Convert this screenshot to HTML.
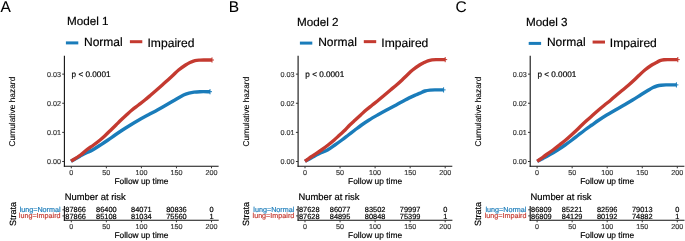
<!DOCTYPE html>
<html><head><meta charset="utf-8"><style>
html,body{margin:0;padding:0;background:#fff;overflow:hidden;}
svg{display:block;font-family:"Liberation Sans", sans-serif;will-change:transform;text-rendering:geometricPrecision;}
</style></head><body>
<svg width="685" height="241" viewBox="0 0 685 241" xmlns="http://www.w3.org/2000/svg">
<rect width="685" height="241" fill="#fff"/>
<text x="0.6" y="12.1" font-size="15.5" fill="#000" stroke="#000" stroke-width="0.05">A</text>
<text x="66.9" y="24.8" font-size="11.7" fill="#000" stroke="#000" stroke-width="0.18">Model 1</text>
<line x1="65.9" y1="42.9" x2="78.3" y2="42.9" stroke="#1A7CBA" stroke-width="3"/>
<text x="84" y="46.1" font-size="12.0" fill="#000" stroke="#000" stroke-width="0.18">Normal</text>
<line x1="129.9" y1="41.7" x2="142.3" y2="41.7" stroke="#C43A30" stroke-width="3"/>
<text x="147.5" y="46.9" font-size="12.1" fill="#000" stroke="#000" stroke-width="0.18">Impaired</text>
<line x1="64.4" y1="55.8" x2="64.4" y2="166.85" stroke="#111111" stroke-width="1.1"/>
<line x1="63.85" y1="166.3" x2="218.6" y2="166.3" stroke="#111111" stroke-width="1.1"/>
<line x1="62.2" y1="161.5" x2="64.4" y2="161.5" stroke="#333" stroke-width="1.0"/>
<text x="60.9" y="164.1" font-size="7.2" fill="#383838" stroke="#383838" stroke-width="0.18" text-anchor="end">0.00</text>
<line x1="62.2" y1="132.38" x2="64.4" y2="132.38" stroke="#333" stroke-width="1.0"/>
<text x="60.9" y="134.98" font-size="7.2" fill="#383838" stroke="#383838" stroke-width="0.18" text-anchor="end">0.01</text>
<line x1="62.2" y1="103.26" x2="64.4" y2="103.26" stroke="#333" stroke-width="1.0"/>
<text x="60.9" y="105.86" font-size="7.2" fill="#383838" stroke="#383838" stroke-width="0.18" text-anchor="end">0.02</text>
<line x1="62.2" y1="74.14" x2="64.4" y2="74.14" stroke="#333" stroke-width="1.0"/>
<text x="60.9" y="76.74" font-size="7.2" fill="#383838" stroke="#383838" stroke-width="0.18" text-anchor="end">0.03</text>
<line x1="71.3" y1="166.3" x2="71.3" y2="168.3" stroke="#333" stroke-width="1.0"/>
<text x="71.3" y="175" font-size="7.2" fill="#383838" stroke="#383838" stroke-width="0.18" text-anchor="middle">0</text>
<line x1="106.35" y1="166.3" x2="106.35" y2="168.3" stroke="#333" stroke-width="1.0"/>
<text x="106.35" y="175" font-size="7.2" fill="#383838" stroke="#383838" stroke-width="0.18" text-anchor="middle">50</text>
<line x1="141.4" y1="166.3" x2="141.4" y2="168.3" stroke="#333" stroke-width="1.0"/>
<text x="141.4" y="175" font-size="7.2" fill="#383838" stroke="#383838" stroke-width="0.18" text-anchor="middle">100</text>
<line x1="176.45" y1="166.3" x2="176.45" y2="168.3" stroke="#333" stroke-width="1.0"/>
<text x="176.45" y="175" font-size="7.2" fill="#383838" stroke="#383838" stroke-width="0.18" text-anchor="middle">150</text>
<line x1="211.5" y1="166.3" x2="211.5" y2="168.3" stroke="#333" stroke-width="1.0"/>
<text x="211.5" y="175" font-size="7.2" fill="#383838" stroke="#383838" stroke-width="0.18" text-anchor="middle">200</text>
<text x="141.4" y="184.2" font-size="8.4" fill="#000" stroke="#000" stroke-width="0.18" text-anchor="middle">Follow up time</text>
<text transform="translate(14.8,111.6) rotate(-90)" font-size="8.4" fill="#000" stroke="#000" stroke-width="0.1" text-anchor="middle">Cumulative hazard</text>
<text x="71.6" y="77.4" font-size="8.2" fill="#000" stroke="#000" stroke-width="0.18">p &lt; 0.0001</text>
<path d="M71,161.2 C72.5,160.37 77.5,157.57 80,156.2 C82.5,154.83 83.92,154.03 86,153 C88.08,151.97 90.1,151.33 92.5,150 C94.9,148.67 97.82,146.67 100.4,145 C102.98,143.33 105.55,141.67 108,140 C110.45,138.33 112.68,136.67 115.1,135 C117.52,133.33 119.93,131.67 122.5,130 C125.07,128.33 127.77,126.67 130.5,125 C133.23,123.33 135.98,121.67 138.9,120 C141.82,118.33 144.92,116.67 148,115 C151.08,113.33 154.37,111.67 157.4,110 C160.43,108.33 163.28,106.67 166.2,105 C169.12,103.33 172,101.67 174.9,100 C177.8,98.33 181.25,96.15 183.6,95 C185.95,93.85 187.27,93.58 189,93.1 C190.73,92.62 192.17,92.33 194,92.1 C195.83,91.87 197.33,91.77 200,91.7 C202.67,91.63 208.33,91.7 210,91.7" fill="none" stroke="#1A7CBA" stroke-width="3.4" stroke-linejoin="round"/>
<path d="M208,91.7 h4 M210,89.1 v5.2" stroke="#1A7CBA" stroke-width="1" fill="none"/>
<path d="M71,161.2 C72.58,160.17 77.93,156.87 80.5,155 C83.07,153.13 84.22,151.67 86.4,150 C88.58,148.33 91.32,146.67 93.6,145 C95.88,143.33 98.08,141.67 100.1,140 C102.12,138.33 103.9,136.67 105.7,135 C107.5,133.33 109.18,131.67 110.9,130 C112.62,128.33 114.32,126.67 116,125 C117.68,123.33 119.27,121.67 121,120 C122.73,118.33 124.57,116.67 126.4,115 C128.23,113.33 129.98,111.67 132,110 C134.02,108.33 136.35,106.67 138.5,105 C140.65,103.33 142.85,101.67 144.9,100 C146.95,98.33 148.85,96.67 150.8,95 C152.75,93.33 154.68,91.67 156.6,90 C158.52,88.33 160.42,86.67 162.3,85 C164.18,83.33 166.07,81.67 167.9,80 C169.73,78.33 171.52,76.67 173.3,75 C175.08,73.33 176.55,71.67 178.6,70 C180.65,68.33 183.7,66.25 185.6,65 C187.5,63.75 188.43,63.23 190,62.5 C191.57,61.77 193.33,61 195,60.6 C196.67,60.2 198.33,60.2 200,60.1 C201.67,60 203,60.02 205,60 C207,59.98 210.83,60 212,60" fill="none" stroke="#C43A30" stroke-width="3.4" stroke-linejoin="round"/>
<path d="M210,60 h4 M212,57.4 v5.2" stroke="#C43A30" stroke-width="1" fill="none"/>
<text x="64.8" y="200.1" font-size="9.4" fill="#000" stroke="#000" stroke-width="0.18">Number at risk</text>
<line x1="64.4" y1="206.1" x2="64.4" y2="220.85" stroke="#111111" stroke-width="1.1"/>
<line x1="63.85" y1="220.3" x2="218.7" y2="220.3" stroke="#111111" stroke-width="1.1"/>
<line x1="62.4" y1="209.8" x2="64.4" y2="209.8" stroke="#333" stroke-width="1.0"/>
<text x="60.6" y="212.35" font-size="7.2" fill="#1A7CBA" stroke="#1A7CBA" stroke-width="0.18" text-anchor="end">lung=Normal</text>
<text transform="translate(65.3,212.4) scale(1.0,1)" font-size="7.4" fill="#000" stroke="#000" stroke-width="0.18" text-anchor="start">87866</text>
<text transform="translate(106.35,212.4) scale(1.0,1)" font-size="7.4" fill="#000" stroke="#000" stroke-width="0.18" text-anchor="middle">86400</text>
<text transform="translate(141.4,212.4) scale(1.0,1)" font-size="7.4" fill="#000" stroke="#000" stroke-width="0.18" text-anchor="middle">84071</text>
<text transform="translate(176.45,212.4) scale(1.0,1)" font-size="7.4" fill="#000" stroke="#000" stroke-width="0.18" text-anchor="middle">80836</text>
<text transform="translate(211.5,212.4) scale(1.0,1)" font-size="7.4" fill="#000" stroke="#000" stroke-width="0.18" text-anchor="middle">0</text>
<line x1="62.4" y1="215.9" x2="64.4" y2="215.9" stroke="#333" stroke-width="1.0"/>
<text x="60.6" y="218.45" font-size="7.2" fill="#C43A30" stroke="#C43A30" stroke-width="0.18" text-anchor="end">lung=Impaird</text>
<text transform="translate(65.3,218.5) scale(1.0,1)" font-size="7.4" fill="#000" stroke="#000" stroke-width="0.18" text-anchor="start">87866</text>
<text transform="translate(106.35,218.5) scale(1.0,1)" font-size="7.4" fill="#000" stroke="#000" stroke-width="0.18" text-anchor="middle">85108</text>
<text transform="translate(141.4,218.5) scale(1.0,1)" font-size="7.4" fill="#000" stroke="#000" stroke-width="0.18" text-anchor="middle">81034</text>
<text transform="translate(176.45,218.5) scale(1.0,1)" font-size="7.4" fill="#000" stroke="#000" stroke-width="0.18" text-anchor="middle">75560</text>
<text transform="translate(211.5,218.5) scale(1.0,1)" font-size="7.4" fill="#000" stroke="#000" stroke-width="0.18" text-anchor="middle">1</text>
<line x1="71.3" y1="220.3" x2="71.3" y2="222.3" stroke="#333" stroke-width="1.0"/>
<text x="71.3" y="228.9" font-size="7.2" fill="#383838" stroke="#383838" stroke-width="0.18" text-anchor="middle">0</text>
<line x1="106.35" y1="220.3" x2="106.35" y2="222.3" stroke="#333" stroke-width="1.0"/>
<text x="106.35" y="228.9" font-size="7.2" fill="#383838" stroke="#383838" stroke-width="0.18" text-anchor="middle">50</text>
<line x1="141.4" y1="220.3" x2="141.4" y2="222.3" stroke="#333" stroke-width="1.0"/>
<text x="141.4" y="228.9" font-size="7.2" fill="#383838" stroke="#383838" stroke-width="0.18" text-anchor="middle">100</text>
<line x1="176.45" y1="220.3" x2="176.45" y2="222.3" stroke="#333" stroke-width="1.0"/>
<text x="176.45" y="228.9" font-size="7.2" fill="#383838" stroke="#383838" stroke-width="0.18" text-anchor="middle">150</text>
<line x1="211.5" y1="220.3" x2="211.5" y2="222.3" stroke="#333" stroke-width="1.0"/>
<text x="211.5" y="228.9" font-size="7.2" fill="#383838" stroke="#383838" stroke-width="0.18" text-anchor="middle">200</text>
<text x="141.4" y="238.4" font-size="8.4" fill="#000" stroke="#000" stroke-width="0.18" text-anchor="middle">Follow up time</text>
<text transform="translate(15.5,213.9) rotate(-90)" font-size="9.0" fill="#000" stroke="#000" stroke-width="0.18" text-anchor="middle">Strata</text>
<text x="228.8" y="11.8" font-size="15.5" fill="#000" stroke="#000" stroke-width="0.05">B</text>
<text x="296.9" y="25.8" font-size="11.7" fill="#000" stroke="#000" stroke-width="0.18">Model 2</text>
<line x1="299.9" y1="43.1" x2="312.3" y2="43.1" stroke="#1A7CBA" stroke-width="3"/>
<text x="318.2" y="45.9" font-size="12.0" fill="#000" stroke="#000" stroke-width="0.18">Normal</text>
<line x1="363.8" y1="41.65" x2="376.2" y2="41.65" stroke="#C43A30" stroke-width="3"/>
<text x="381.3" y="47" font-size="12.1" fill="#000" stroke="#000" stroke-width="0.18">Impaired</text>
<line x1="298.1" y1="55.8" x2="298.1" y2="166.85" stroke="#111111" stroke-width="1.1"/>
<line x1="297.55" y1="166.3" x2="452.3" y2="166.3" stroke="#111111" stroke-width="1.1"/>
<line x1="295.9" y1="161.5" x2="298.1" y2="161.5" stroke="#333" stroke-width="1.0"/>
<text x="294.6" y="164.1" font-size="7.2" fill="#383838" stroke="#383838" stroke-width="0.18" text-anchor="end">0.00</text>
<line x1="295.9" y1="132.38" x2="298.1" y2="132.38" stroke="#333" stroke-width="1.0"/>
<text x="294.6" y="134.98" font-size="7.2" fill="#383838" stroke="#383838" stroke-width="0.18" text-anchor="end">0.01</text>
<line x1="295.9" y1="103.26" x2="298.1" y2="103.26" stroke="#333" stroke-width="1.0"/>
<text x="294.6" y="105.86" font-size="7.2" fill="#383838" stroke="#383838" stroke-width="0.18" text-anchor="end">0.02</text>
<line x1="295.9" y1="74.14" x2="298.1" y2="74.14" stroke="#333" stroke-width="1.0"/>
<text x="294.6" y="76.74" font-size="7.2" fill="#383838" stroke="#383838" stroke-width="0.18" text-anchor="end">0.03</text>
<line x1="305" y1="166.3" x2="305" y2="168.3" stroke="#333" stroke-width="1.0"/>
<text x="305" y="175" font-size="7.2" fill="#383838" stroke="#383838" stroke-width="0.18" text-anchor="middle">0</text>
<line x1="340.05" y1="166.3" x2="340.05" y2="168.3" stroke="#333" stroke-width="1.0"/>
<text x="340.05" y="175" font-size="7.2" fill="#383838" stroke="#383838" stroke-width="0.18" text-anchor="middle">50</text>
<line x1="375.1" y1="166.3" x2="375.1" y2="168.3" stroke="#333" stroke-width="1.0"/>
<text x="375.1" y="175" font-size="7.2" fill="#383838" stroke="#383838" stroke-width="0.18" text-anchor="middle">100</text>
<line x1="410.15" y1="166.3" x2="410.15" y2="168.3" stroke="#333" stroke-width="1.0"/>
<text x="410.15" y="175" font-size="7.2" fill="#383838" stroke="#383838" stroke-width="0.18" text-anchor="middle">150</text>
<line x1="445.2" y1="166.3" x2="445.2" y2="168.3" stroke="#333" stroke-width="1.0"/>
<text x="445.2" y="175" font-size="7.2" fill="#383838" stroke="#383838" stroke-width="0.18" text-anchor="middle">200</text>
<text x="375.1" y="184.2" font-size="8.4" fill="#000" stroke="#000" stroke-width="0.18" text-anchor="middle">Follow up time</text>
<text transform="translate(248.5,111.6) rotate(-90)" font-size="8.4" fill="#000" stroke="#000" stroke-width="0.1" text-anchor="middle">Cumulative hazard</text>
<text x="305.3" y="77.4" font-size="8.2" fill="#000" stroke="#000" stroke-width="0.18">p &lt; 0.0001</text>
<path d="M305,161.3 C306.17,160.67 309.67,158.75 312,157.5 C314.33,156.25 316.42,155.05 319,153.8 C321.58,152.55 324.85,151.47 327.5,150 C330.15,148.53 332.5,146.67 334.9,145 C337.3,143.33 339.65,141.67 341.9,140 C344.15,138.33 346.23,136.67 348.4,135 C350.57,133.33 352.7,131.67 354.9,130 C357.1,128.33 359.23,126.67 361.6,125 C363.97,123.33 366.43,121.67 369.1,120 C371.77,118.33 374.68,116.67 377.6,115 C380.52,113.33 383.5,111.67 386.6,110 C389.7,108.33 393.1,106.67 396.2,105 C399.3,103.33 401.97,101.67 405.2,100 C408.43,98.33 413.13,96.15 415.6,95 C418.07,93.85 418.43,93.77 420,93.1 C421.57,92.43 423.33,91.5 425,91 C426.67,90.5 428.17,90.28 430,90.1 C431.83,89.92 433.73,89.93 436,89.9 C438.27,89.87 442.33,89.9 443.6,89.9" fill="none" stroke="#1A7CBA" stroke-width="3.4" stroke-linejoin="round"/>
<path d="M441.6,89.9 h4 M443.6,87.3 v5.2" stroke="#1A7CBA" stroke-width="1" fill="none"/>
<path d="M305,161.3 C305.67,160.8 307.5,159.35 309,158.3 C310.5,157.25 311.93,156.38 314,155 C316.07,153.62 319.05,151.67 321.4,150 C323.75,148.33 325.97,146.67 328.1,145 C330.23,143.33 332.28,141.67 334.2,140 C336.12,138.33 337.78,136.67 339.6,135 C341.42,133.33 343.4,131.67 345.1,130 C346.8,128.33 348.12,126.67 349.8,125 C351.48,123.33 353.38,121.67 355.2,120 C357.02,118.33 358.88,116.67 360.7,115 C362.52,113.33 364.17,111.67 366.1,110 C368.03,108.33 370.22,106.67 372.3,105 C374.38,103.33 376.55,101.67 378.6,100 C380.65,98.33 382.62,96.67 384.6,95 C386.58,93.33 388.52,91.67 390.5,90 C392.48,88.33 394.57,86.67 396.5,85 C398.43,83.33 400.32,81.67 402.1,80 C403.88,78.33 405.45,76.67 407.2,75 C408.95,73.33 410.53,71.67 412.6,70 C414.67,68.33 417.7,66.23 419.6,65 C421.5,63.77 422.6,63.3 424,62.6 C425.4,61.9 426.67,61.25 428,60.8 C429.33,60.35 430.67,60.1 432,59.9 C433.33,59.7 433.8,59.65 436,59.6 C438.2,59.55 443.67,59.6 445.2,59.6" fill="none" stroke="#C43A30" stroke-width="3.4" stroke-linejoin="round"/>
<path d="M443.2,59.6 h4 M445.2,57 v5.2" stroke="#C43A30" stroke-width="1" fill="none"/>
<text x="298.5" y="200.1" font-size="9.4" fill="#000" stroke="#000" stroke-width="0.18">Number at risk</text>
<line x1="298.1" y1="206.1" x2="298.1" y2="220.85" stroke="#111111" stroke-width="1.1"/>
<line x1="297.55" y1="220.3" x2="452.4" y2="220.3" stroke="#111111" stroke-width="1.1"/>
<line x1="296.1" y1="209.8" x2="298.1" y2="209.8" stroke="#333" stroke-width="1.0"/>
<text x="294.3" y="212.35" font-size="7.2" fill="#1A7CBA" stroke="#1A7CBA" stroke-width="0.18" text-anchor="end">lung=Normal</text>
<text transform="translate(299,212.4) scale(1.0,1)" font-size="7.4" fill="#000" stroke="#000" stroke-width="0.18" text-anchor="start">87628</text>
<text transform="translate(340.05,212.4) scale(1.0,1)" font-size="7.4" fill="#000" stroke="#000" stroke-width="0.18" text-anchor="middle">86077</text>
<text transform="translate(375.1,212.4) scale(1.0,1)" font-size="7.4" fill="#000" stroke="#000" stroke-width="0.18" text-anchor="middle">83502</text>
<text transform="translate(410.15,212.4) scale(1.0,1)" font-size="7.4" fill="#000" stroke="#000" stroke-width="0.18" text-anchor="middle">79997</text>
<text transform="translate(445.2,212.4) scale(1.0,1)" font-size="7.4" fill="#000" stroke="#000" stroke-width="0.18" text-anchor="middle">0</text>
<line x1="296.1" y1="215.9" x2="298.1" y2="215.9" stroke="#333" stroke-width="1.0"/>
<text x="294.3" y="218.45" font-size="7.2" fill="#C43A30" stroke="#C43A30" stroke-width="0.18" text-anchor="end">lung=Impaird</text>
<text transform="translate(299,218.5) scale(1.0,1)" font-size="7.4" fill="#000" stroke="#000" stroke-width="0.18" text-anchor="start">87628</text>
<text transform="translate(340.05,218.5) scale(1.0,1)" font-size="7.4" fill="#000" stroke="#000" stroke-width="0.18" text-anchor="middle">84895</text>
<text transform="translate(375.1,218.5) scale(1.0,1)" font-size="7.4" fill="#000" stroke="#000" stroke-width="0.18" text-anchor="middle">80848</text>
<text transform="translate(410.15,218.5) scale(1.0,1)" font-size="7.4" fill="#000" stroke="#000" stroke-width="0.18" text-anchor="middle">75399</text>
<text transform="translate(445.2,218.5) scale(1.0,1)" font-size="7.4" fill="#000" stroke="#000" stroke-width="0.18" text-anchor="middle">1</text>
<line x1="305" y1="220.3" x2="305" y2="222.3" stroke="#333" stroke-width="1.0"/>
<text x="305" y="228.9" font-size="7.2" fill="#383838" stroke="#383838" stroke-width="0.18" text-anchor="middle">0</text>
<line x1="340.05" y1="220.3" x2="340.05" y2="222.3" stroke="#333" stroke-width="1.0"/>
<text x="340.05" y="228.9" font-size="7.2" fill="#383838" stroke="#383838" stroke-width="0.18" text-anchor="middle">50</text>
<line x1="375.1" y1="220.3" x2="375.1" y2="222.3" stroke="#333" stroke-width="1.0"/>
<text x="375.1" y="228.9" font-size="7.2" fill="#383838" stroke="#383838" stroke-width="0.18" text-anchor="middle">100</text>
<line x1="410.15" y1="220.3" x2="410.15" y2="222.3" stroke="#333" stroke-width="1.0"/>
<text x="410.15" y="228.9" font-size="7.2" fill="#383838" stroke="#383838" stroke-width="0.18" text-anchor="middle">150</text>
<line x1="445.2" y1="220.3" x2="445.2" y2="222.3" stroke="#333" stroke-width="1.0"/>
<text x="445.2" y="228.9" font-size="7.2" fill="#383838" stroke="#383838" stroke-width="0.18" text-anchor="middle">200</text>
<text x="375.1" y="238.4" font-size="8.4" fill="#000" stroke="#000" stroke-width="0.18" text-anchor="middle">Follow up time</text>
<text transform="translate(249.2,213.9) rotate(-90)" font-size="9.0" fill="#000" stroke="#000" stroke-width="0.18" text-anchor="middle">Strata</text>
<text x="455.6" y="12.2" font-size="15.5" fill="#000" stroke="#000" stroke-width="0.05">C</text>
<text x="526" y="25.5" font-size="11.7" fill="#000" stroke="#000" stroke-width="0.18">Model 3</text>
<line x1="528.7" y1="43.4" x2="541.1" y2="43.4" stroke="#1A7CBA" stroke-width="3"/>
<text x="546.9" y="46.3" font-size="12.0" fill="#000" stroke="#000" stroke-width="0.18">Normal</text>
<line x1="592.6" y1="42.05" x2="605" y2="42.05" stroke="#C43A30" stroke-width="3"/>
<text x="609.8" y="47" font-size="12.1" fill="#000" stroke="#000" stroke-width="0.18">Impaired</text>
<line x1="530.2" y1="55.8" x2="530.2" y2="166.85" stroke="#111111" stroke-width="1.1"/>
<line x1="529.65" y1="166.3" x2="684.4" y2="166.3" stroke="#111111" stroke-width="1.1"/>
<line x1="528" y1="161.5" x2="530.2" y2="161.5" stroke="#333" stroke-width="1.0"/>
<text x="526.7" y="164.1" font-size="7.2" fill="#383838" stroke="#383838" stroke-width="0.18" text-anchor="end">0.00</text>
<line x1="528" y1="132.38" x2="530.2" y2="132.38" stroke="#333" stroke-width="1.0"/>
<text x="526.7" y="134.98" font-size="7.2" fill="#383838" stroke="#383838" stroke-width="0.18" text-anchor="end">0.01</text>
<line x1="528" y1="103.26" x2="530.2" y2="103.26" stroke="#333" stroke-width="1.0"/>
<text x="526.7" y="105.86" font-size="7.2" fill="#383838" stroke="#383838" stroke-width="0.18" text-anchor="end">0.02</text>
<line x1="528" y1="74.14" x2="530.2" y2="74.14" stroke="#333" stroke-width="1.0"/>
<text x="526.7" y="76.74" font-size="7.2" fill="#383838" stroke="#383838" stroke-width="0.18" text-anchor="end">0.03</text>
<line x1="537.1" y1="166.3" x2="537.1" y2="168.3" stroke="#333" stroke-width="1.0"/>
<text x="537.1" y="175" font-size="7.2" fill="#383838" stroke="#383838" stroke-width="0.18" text-anchor="middle">0</text>
<line x1="572.15" y1="166.3" x2="572.15" y2="168.3" stroke="#333" stroke-width="1.0"/>
<text x="572.15" y="175" font-size="7.2" fill="#383838" stroke="#383838" stroke-width="0.18" text-anchor="middle">50</text>
<line x1="607.2" y1="166.3" x2="607.2" y2="168.3" stroke="#333" stroke-width="1.0"/>
<text x="607.2" y="175" font-size="7.2" fill="#383838" stroke="#383838" stroke-width="0.18" text-anchor="middle">100</text>
<line x1="642.25" y1="166.3" x2="642.25" y2="168.3" stroke="#333" stroke-width="1.0"/>
<text x="642.25" y="175" font-size="7.2" fill="#383838" stroke="#383838" stroke-width="0.18" text-anchor="middle">150</text>
<line x1="677.3" y1="166.3" x2="677.3" y2="168.3" stroke="#333" stroke-width="1.0"/>
<text x="677.3" y="175" font-size="7.2" fill="#383838" stroke="#383838" stroke-width="0.18" text-anchor="middle">200</text>
<text x="607.2" y="184.2" font-size="8.4" fill="#000" stroke="#000" stroke-width="0.18" text-anchor="middle">Follow up time</text>
<text transform="translate(480.6,111.6) rotate(-90)" font-size="8.4" fill="#000" stroke="#000" stroke-width="0.1" text-anchor="middle">Cumulative hazard</text>
<text x="537.4" y="77.4" font-size="8.2" fill="#000" stroke="#000" stroke-width="0.18">p &lt; 0.0001</text>
<path d="M537.2,161.3 C538.17,160.82 540.87,159.52 543,158.4 C545.13,157.28 547.57,156 550,154.6 C552.43,153.2 555.08,151.6 557.6,150 C560.12,148.4 562.7,146.67 565.1,145 C567.5,143.33 569.78,141.67 572,140 C574.22,138.33 576.25,136.67 578.4,135 C580.55,133.33 582.65,131.67 584.9,130 C587.15,128.33 589.55,126.67 591.9,125 C594.25,123.33 596.53,121.67 599,120 C601.47,118.33 603.97,116.67 606.7,115 C609.43,113.33 612.5,111.67 615.4,110 C618.3,108.33 621.23,106.67 624.1,105 C626.97,103.33 629.85,101.67 632.6,100 C635.35,98.33 637.93,96.67 640.6,95 C643.27,93.33 646.53,91.25 648.6,90 C650.67,88.75 651.6,88.17 653,87.5 C654.4,86.83 655.67,86.38 657,86 C658.33,85.62 659.5,85.38 661,85.2 C662.5,85.02 663.43,84.95 666,84.9 C668.57,84.85 674.67,84.9 676.4,84.9" fill="none" stroke="#1A7CBA" stroke-width="3.4" stroke-linejoin="round"/>
<path d="M674.4,84.9 h4 M676.4,82.3 v5.2" stroke="#1A7CBA" stroke-width="1" fill="none"/>
<path d="M537.2,161.3 C537.83,160.85 539.55,159.65 541,158.6 C542.45,157.55 543.9,156.43 545.9,155 C547.9,153.57 550.75,151.67 553,150 C555.25,148.33 557.28,146.67 559.4,145 C561.52,143.33 563.7,141.67 565.7,140 C567.7,138.33 569.55,136.67 571.4,135 C573.25,133.33 575.05,131.67 576.8,130 C578.55,128.33 580.15,126.67 581.9,125 C583.65,123.33 585.47,121.67 587.3,120 C589.13,118.33 591.02,116.67 592.9,115 C594.78,113.33 596.65,111.67 598.6,110 C600.55,108.33 602.55,106.67 604.6,105 C606.65,103.33 608.9,101.67 610.9,100 C612.9,98.33 614.63,96.67 616.6,95 C618.57,93.33 620.68,91.67 622.7,90 C624.72,88.33 626.78,86.67 628.7,85 C630.62,83.33 632.42,81.67 634.2,80 C635.98,78.33 637.62,76.67 639.4,75 C641.18,73.33 642.83,71.67 644.9,70 C646.97,68.33 649.95,66.2 651.8,65 C653.65,63.8 654.63,63.52 656,62.8 C657.37,62.08 658.67,61.2 660,60.7 C661.33,60.2 662.67,59.98 664,59.8 C665.33,59.62 665.7,59.63 668,59.6 C670.3,59.57 676.17,59.6 677.8,59.6" fill="none" stroke="#C43A30" stroke-width="3.4" stroke-linejoin="round"/>
<path d="M675.8,59.6 h4 M677.8,57 v5.2" stroke="#C43A30" stroke-width="1" fill="none"/>
<text x="530.6" y="200.1" font-size="9.4" fill="#000" stroke="#000" stroke-width="0.18">Number at risk</text>
<line x1="530.2" y1="206.1" x2="530.2" y2="220.85" stroke="#111111" stroke-width="1.1"/>
<line x1="529.65" y1="220.3" x2="684.5" y2="220.3" stroke="#111111" stroke-width="1.1"/>
<line x1="528.2" y1="209.8" x2="530.2" y2="209.8" stroke="#333" stroke-width="1.0"/>
<text x="526.4" y="212.35" font-size="7.2" fill="#1A7CBA" stroke="#1A7CBA" stroke-width="0.18" text-anchor="end">lung=Normal</text>
<text transform="translate(531.1,212.4) scale(1.0,1)" font-size="7.4" fill="#000" stroke="#000" stroke-width="0.18" text-anchor="start">86809</text>
<text transform="translate(572.15,212.4) scale(1.0,1)" font-size="7.4" fill="#000" stroke="#000" stroke-width="0.18" text-anchor="middle">85221</text>
<text transform="translate(607.2,212.4) scale(1.0,1)" font-size="7.4" fill="#000" stroke="#000" stroke-width="0.18" text-anchor="middle">82596</text>
<text transform="translate(642.25,212.4) scale(1.0,1)" font-size="7.4" fill="#000" stroke="#000" stroke-width="0.18" text-anchor="middle">79013</text>
<text transform="translate(677.3,212.4) scale(1.0,1)" font-size="7.4" fill="#000" stroke="#000" stroke-width="0.18" text-anchor="middle">0</text>
<line x1="528.2" y1="215.9" x2="530.2" y2="215.9" stroke="#333" stroke-width="1.0"/>
<text x="526.4" y="218.45" font-size="7.2" fill="#C43A30" stroke="#C43A30" stroke-width="0.18" text-anchor="end">lung=Impaird</text>
<text transform="translate(531.1,218.5) scale(1.0,1)" font-size="7.4" fill="#000" stroke="#000" stroke-width="0.18" text-anchor="start">86809</text>
<text transform="translate(572.15,218.5) scale(1.0,1)" font-size="7.4" fill="#000" stroke="#000" stroke-width="0.18" text-anchor="middle">84129</text>
<text transform="translate(607.2,218.5) scale(1.0,1)" font-size="7.4" fill="#000" stroke="#000" stroke-width="0.18" text-anchor="middle">80192</text>
<text transform="translate(642.25,218.5) scale(1.0,1)" font-size="7.4" fill="#000" stroke="#000" stroke-width="0.18" text-anchor="middle">74882</text>
<text transform="translate(677.3,218.5) scale(1.0,1)" font-size="7.4" fill="#000" stroke="#000" stroke-width="0.18" text-anchor="middle">1</text>
<line x1="537.1" y1="220.3" x2="537.1" y2="222.3" stroke="#333" stroke-width="1.0"/>
<text x="537.1" y="228.9" font-size="7.2" fill="#383838" stroke="#383838" stroke-width="0.18" text-anchor="middle">0</text>
<line x1="572.15" y1="220.3" x2="572.15" y2="222.3" stroke="#333" stroke-width="1.0"/>
<text x="572.15" y="228.9" font-size="7.2" fill="#383838" stroke="#383838" stroke-width="0.18" text-anchor="middle">50</text>
<line x1="607.2" y1="220.3" x2="607.2" y2="222.3" stroke="#333" stroke-width="1.0"/>
<text x="607.2" y="228.9" font-size="7.2" fill="#383838" stroke="#383838" stroke-width="0.18" text-anchor="middle">100</text>
<line x1="642.25" y1="220.3" x2="642.25" y2="222.3" stroke="#333" stroke-width="1.0"/>
<text x="642.25" y="228.9" font-size="7.2" fill="#383838" stroke="#383838" stroke-width="0.18" text-anchor="middle">150</text>
<line x1="677.3" y1="220.3" x2="677.3" y2="222.3" stroke="#333" stroke-width="1.0"/>
<text x="677.3" y="228.9" font-size="7.2" fill="#383838" stroke="#383838" stroke-width="0.18" text-anchor="middle">200</text>
<text x="607.2" y="238.4" font-size="8.4" fill="#000" stroke="#000" stroke-width="0.18" text-anchor="middle">Follow up time</text>
<text transform="translate(481.3,213.9) rotate(-90)" font-size="9.0" fill="#000" stroke="#000" stroke-width="0.18" text-anchor="middle">Strata</text>
</svg>
</body></html>
